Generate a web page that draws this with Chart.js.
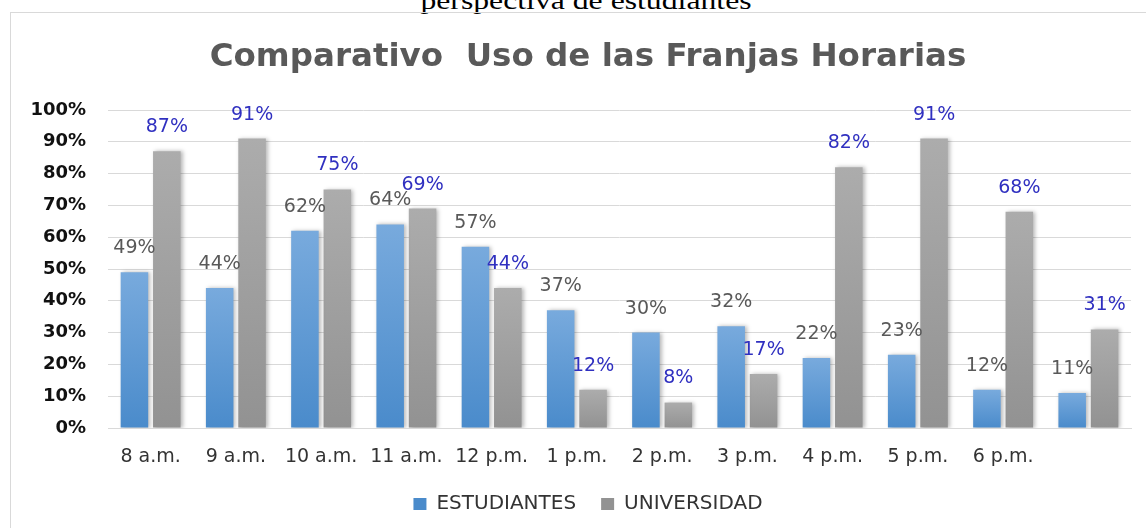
<!DOCTYPE html>
<html>
<head>
<meta charset="utf-8">
<script src="https://cdn.jsdelivr.net/npm/chart.js@4.4.1/dist/chart.umd.min.js"></script>
<style>
  html, body { margin: 0; padding: 0; background: #ffffff; }
  #wrap { position: relative; width: 1146px; height: 528px; overflow: hidden; background: #fff; }
  #caption { position: absolute; left: 13px; width: 1146px; top: -12px; text-align: center;
             font-family: "Liberation Serif", serif; font-size: 26px; line-height: 26px; color: #000;
             transform: scaleX(1.22); transform-origin: 573px 0; }
  #frame { position: absolute; left: 10px; top: 12px; width: 1200px; height: 600px; border: 1px solid #d9d9d9; }
  #c { position: absolute; left: 0; top: 0; }
</style>
</head>
<body>
<div id="wrap">
  <div id="caption">perspectiva de estudiantes</div>
  <div id="frame"></div>
  <canvas id="c" width="1146" height="528"></canvas>
</div>
<script>
const categories = ["8 a.m.", "9 a.m.", "10 a.m.", "11 a.m.", "12 p.m.", "1 p.m.", "2 p.m.", "3 p.m.", "4 p.m.", "5 p.m.", "6 p.m.", ""];
const estudiantes = [49, 44, 62, 64, 57, 37, 30, 32, 22, 23, 12, 11];
const universidad = [87, 91, 75, 69, 44, 12, 8, 17, 82, 91, 68, 31];
const seriesNames = ["ESTUDIANTES", "UNIVERSIDAD"];
const titleText = "Comparativo  Uso de las Franjas Horarias";
const yTickValues = [0, 10, 20, 30, 40, 50, 60, 70, 80, 90, 100];

function barGradient(topColor, bottomColor, solid) {
  return function (ctx) {
    const chart = ctx.chart;
    const ys = chart.scales && chart.scales.y;
    if (!chart.chartArea || !ys || ctx.raw === undefined || ctx.type !== 'data') return solid;
    const top = ys.getPixelForValue(ctx.raw);
    const bottom = ys.getPixelForValue(0);
    if (!isFinite(top) || !isFinite(bottom) || bottom - top < 1) return solid;
    const g = chart.ctx.createLinearGradient(0, top, 0, bottom);
    g.addColorStop(0, topColor);
    g.addColorStop(1, bottomColor);
    return g;
  };
}

// let tick labels draw outside their (narrow) scale boxes
const noLabelClip = {
  id: 'noLabelClip',
  beforeDraw(chart) {
    Object.values(chart.scales).forEach(s => { s._computeLabelArea = function () { return undefined; }; });
  }
};

const shadowPlugin = {
  id: 'barShadow',
  beforeDatasetsDraw(chart) {
    const c = chart.ctx;
    c.save();
    c.shadowColor = 'rgba(0,0,0,0.28)';
    c.shadowBlur = 4;
    c.shadowOffsetX = 2;
    c.shadowOffsetY = 0;
  },
  afterDatasetsDraw(chart) {
    chart.ctx.restore();
  }
};

const labelColors = ['#595959', '#3030c0'];
const valueLabels = {
  id: 'valueLabels',
  afterDatasetsDraw(chart) {
    const c = chart.ctx;
    c.save();
    c.font = '19px "DejaVu Sans"';
    c.textAlign = 'center';
    c.textBaseline = 'middle';
    chart.data.datasets.forEach((ds, di) => {
      const meta = chart.getDatasetMeta(di);
      c.fillStyle = labelColors[di];
      meta.data.forEach((el, i) => {
        c.fillText(ds.data[i] + '%', el.x, el.y - 24);
      });
    });
    c.restore();
  }
};

new Chart(document.getElementById('c'), {
  type: 'bar',
  data: {
    labels: categories,
    datasets: [
      { label: seriesNames[0], data: estudiantes,
        backgroundColor: barGradient('#78aadd', '#4a8bcb', '#5b9bd5'), borderWidth: 0,
        categoryPercentage: 0.76, barPercentage: 0.85 },
      { label: seriesNames[1], data: universidad,
        backgroundColor: barGradient('#acacac', '#929292', '#a5a5a5'), borderWidth: 0,
        categoryPercentage: 0.76, barPercentage: 0.85 }
    ]
  },
  options: {
    responsive: false,
    animation: false,
    layout: { padding: { left: 45, right: 15, top: 0, bottom: 4 } },
    plugins: {
      title: {
        display: true, text: titleText, color: '#595959',
        font: { family: 'DejaVu Sans', size: 32.5, weight: 'bold', lineHeight: 1.2 },
        padding: { top: 38, bottom: 33 }
      },
      legend: {
        position: 'bottom',
        labels: { color: '#333333', font: { family: 'DejaVu Sans', size: 20 },
                  boxWidth: 13, boxHeight: 12, padding: 25 }
      },
      tooltip: { enabled: false }
    },
    scales: {
      x: {
        afterFit(scale) { scale.height = 41; },
        grid: { display: false, drawTicks: false },
        border: { display: true, color: '#d9d9d9' },
        ticks: { color: '#333333', font: { family: 'DejaVu Sans', size: 19 }, padding: 18, maxRotation: 0, autoSkip: false }
      },
      y: {
        min: 0, max: 100,
        afterBuildTicks(scale) { scale.ticks = yTickValues.map(v => ({ value: v })); },
        afterFit(scale) { scale.width = 63; },
        grid: { color: '#d9d9d9', drawTicks: false },
        border: { display: false },
        ticks: { color: '#111111', font: { family: 'DejaVu Sans', size: 18, weight: 'bold' }, padding: 22,
                 callback: v => v + '%' }
      }
    }
  },
  plugins: [noLabelClip, shadowPlugin, valueLabels]
});
</script>
</body>
</html>
